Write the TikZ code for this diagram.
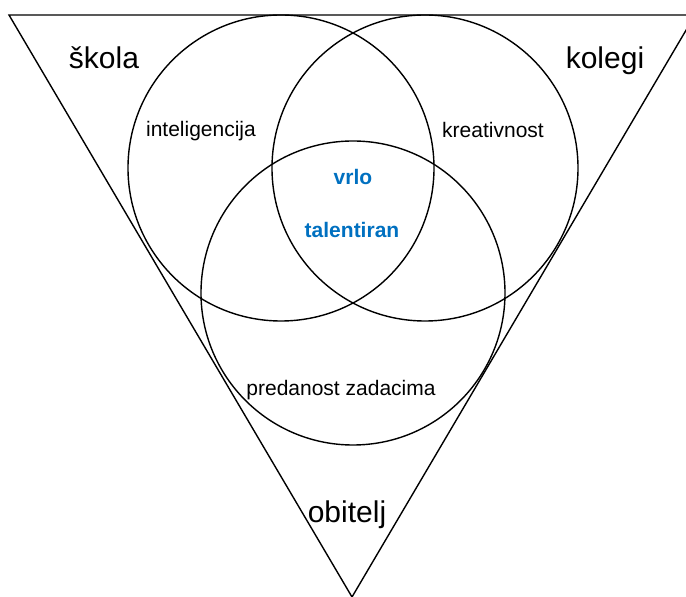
\documentclass[tikz,border=0pt]{standalone}
\usepackage{fontspec}
\setmainfont{Liberation Sans}
\definecolor{talentblue}{RGB}{0,112,192}
\tikzset{
  bigword/.style={font=\fontsize{30}{36}\selectfont, anchor=base},
  trait/.style={font=\fontsize{21}{25}\selectfont, anchor=base},
  coreword/.style={font=\fontsize{21}{25}\selectfont\bfseries, text=talentblue, anchor=base}
}
\begin{document}
\begin{tikzpicture}[x=1pt,y=1pt,line width=1.4pt]
    \useasboundingbox (0,0) rectangle (686,597);
    %Triangle
    \draw (9,582) -- (695,582) -- (352,0) -- cycle;
    %Circles
    \draw (281,429) circle (153);
    \draw (425,429) circle (153);
    \draw (353,304) circle (152);

    %Surroundings
    \node[bigword] (skola) at (104,528) {škola};
    \node[bigword] (kolegi) at (605,528) {kolegi};
    \node[bigword] (obitelj) at (347,74) {obitelj};
    %Traits
    \node[trait] (intel) at (201,460) {inteligencija};
    \node[trait] (kreat) at (493,459) {kreativnost};
    \node[trait] (predan) at (341,201) {predanost zadacima};
    %Centre
    \node[coreword] (vrlo) at (353,412) {vrlo};
    \node[coreword] (talent) at (352,359) {talentiran};
\end{tikzpicture}
\end{document}
